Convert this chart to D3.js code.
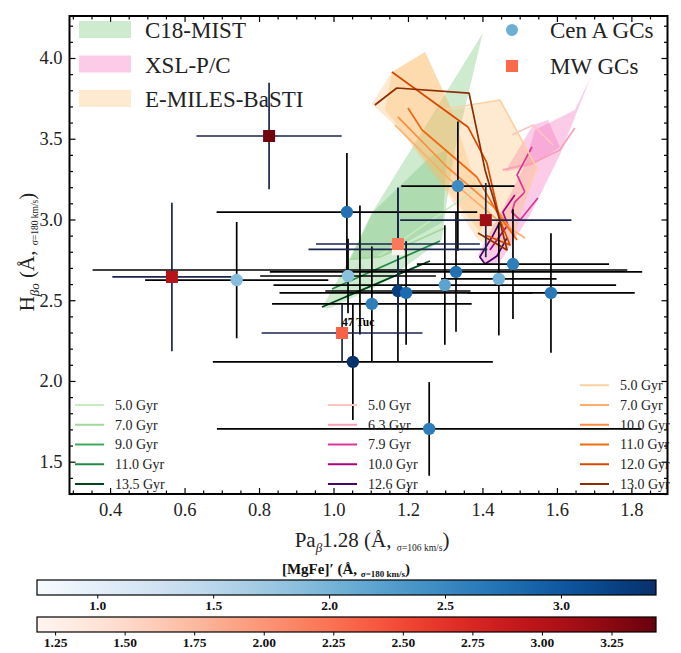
<!DOCTYPE html>
<html>
<head>
<meta charset="utf-8">
<script src="https://cdn.jsdelivr.net/npm/d3@7"></script>
<style>
  body { margin: 0; background: #fff; }
  svg, svg text { font-family: "Liberation Serif", "DejaVu Serif", serif; }
</style>
</head>
<body>
<svg id="chart" width="681" height="653"></svg>
<script>
//=============== data ===============
var xTicks = [0.4, 0.6, 0.8, 1.0, 1.2, 1.4, 1.6, 1.8];
var yTicks = [1.5, 2.0, 2.5, 3.0, 3.5, 4.0];
var cbBlueTicks = [1.0, 1.5, 2.0, 2.5, 3.0];
var cbRedTicks = [1.25, 1.5, 1.75, 2.0, 2.25, 2.5, 2.75, 3.0, 3.25];

// Cen A GCs (first one is the faint point lying under the model fills)
var cenX    = [1.071, 1.036, 0.740, 1.334, 1.039, 1.103, 1.173, 1.195, 1.052, 1.299, 1.329, 1.444, 1.482, 1.584, 1.257];
var cenY    = [2.687, 3.046, 2.625, 3.207, 2.650, 2.477, 2.557, 2.545, 2.118, 2.594, 2.675, 2.632, 2.724, 2.545, 1.703];
var cenXerr = [0.718, 0.350, 0.246, 0.152, 0.236, 0.268, 0.195, 0.340, 0.376, 0.460, 0.500, 0.155, 0.258, 0.225, 0.570];
var cenYerr = [0.400, 0.365, 0.360, 0.400, 0.230, 0.355, 0.440, 0.320, 0.360, 0.370, 0.370, 0.350, 0.340, 0.370, 0.290];
var cenMgFe = [0.74, 2.74, 1.90, 2.48, 1.86, 2.61, 3.28, 2.82, 3.40, 2.20, 2.74, 2.02, 2.61, 2.66, 2.61];

// MW GCs
var mwX     = [1.173, 0.827, 0.566, 1.173, 1.023, 1.409];
var mwY     = [2.815, 3.517, 2.644, 2.848, 2.297, 2.996];
var mwXerr  = [0.240, 0.195, 0.160, 0.220, 0.216, 0.230];
var mwYerr  = [0.380, 0.330, 0.460, 0.350, 0.180, 0.230];
var mwMgFe  = [1.185, 3.37, 3.01, 2.19, 2.35, 3.14];
var mwNames = ["", "", "", "", "47 Tuc", ""];

// C18-MIST
var c18Ages = ["5.0 Gyr", "7.0 Gyr", "9.0 Gyr", "11.0 Gyr", "13.5 Gyr"];
var c18Fills = [
	[[0.969,2.452],[1.044,2.762],[1.103,3.040],[1.401,4.155],[1.326,3.430],[1.305,3.121],[1.291,2.873],[1.125,2.594],[0.991,2.452]],
	[[1.044,2.749],[1.106,3.046],[1.259,3.387],[1.305,3.430],[1.294,2.984],[1.125,2.768]]
];
var c18Lines = [
	[[1.119,2.768],[1.380,3.183]],
	[[1.044,2.755],[1.125,2.768],[1.299,2.947]],
	[[1.031,2.520],[1.232,2.718]],
	[[0.996,2.570],[1.286,2.867]],
	[[0.969,2.458],[1.259,2.743]]
];

// XSL-P/C
var xslAges = ["5.0 Gyr", "6.3 Gyr", "7.9 Gyr", "10.0 Gyr", "12.6 Gyr"];
var xslFills = [
	[[1.691,3.882],[1.608,3.399],[1.528,3.028],[1.447,2.737],[1.407,2.718],[1.388,2.780],[1.460,3.090],[1.514,3.337],[1.541,3.554],[1.648,3.678]],
	[[1.460,3.294],[1.536,3.585],[1.576,3.616],[1.608,3.449],[1.536,3.337]]
];
var xslLines = [
	[[1.479,3.523],[1.536,3.585],[1.590,3.460]],
	[[1.455,3.307],[1.536,3.350],[1.608,3.430],[1.648,3.567]],
	[[1.533,3.449],[1.493,3.276],[1.514,3.170],[1.487,3.108],[1.479,3.046],[1.501,2.997],[1.549,3.133]],
	[[1.487,3.152],[1.455,3.046],[1.468,2.966],[1.439,2.873],[1.420,2.811]],
	[[1.447,2.985],[1.426,2.892],[1.393,2.768],[1.407,2.724],[1.439,2.774],[1.466,2.886]]
];

// E-MILES-BaSTI
var emAges = ["5.0 Gyr", "7.0 Gyr", "10.0 Gyr", "11.0 Gyr", "12.0 Gyr", "13.0 Gyr"];
var emFills = [
	[[1.103,3.715],[1.157,3.913],[1.246,4.037],[1.318,3.678],[1.447,3.740],[1.546,3.319],[1.509,3.071],[1.482,2.873],[1.460,2.811],[1.388,2.873],[1.299,3.183],[1.179,3.554]],
	[[1.157,3.913],[1.246,4.037],[1.318,3.678],[1.366,3.337],[1.420,3.059],[1.393,2.923],[1.326,3.121],[1.205,3.492],[1.138,3.678]]
];
var emLines = [
	[[1.286,3.678],[1.447,3.740],[1.546,3.319],[1.514,3.152]],
	[[1.165,3.585],[1.313,3.245],[1.447,2.985],[1.514,2.885]],
	[[1.173,3.635],[1.305,3.325],[1.439,3.059],[1.487,2.904]],
	[[1.200,3.690],[1.238,3.554],[1.385,3.263],[1.447,3.015],[1.493,2.873]],
	[[1.157,3.913],[1.361,3.573],[1.412,3.350],[1.447,2.997],[1.474,2.842],[1.407,2.904]],
	[[1.111,3.709],[1.170,3.814],[1.364,3.783],[1.407,3.307],[1.444,3.015],[1.466,2.811],[1.388,2.916]]
];

//=============== styles ===============
var serif = "'Liberation Serif', 'DejaVu Serif', serif";
var c18Colors = ["#c7e9c0", "#a1d99b", "#41ab5d", "#238b45", "#00441b"];
var xslColors = ["#fcc5c0", "#fa9fb5", "#dd3497", "#ae017e", "#49006a"];
var emColors  = ["#fdd0a2", "#fdae6b", "#fd8d3c", "#f16913", "#d94801", "#8c2d04"];
var c18Fill = "#74c476", xslFill = "#f46fc0", emFill = "#fdb863";
var c18Op = 0.35, xslOp = 0.36, emOp = 0.3;
var mwErrColor = "#1a2550";

//=============== chart ===============
var svg = d3.select("#chart");
var defs = svg.append("defs");

var x = d3.scaleLinear().domain([0.291, 1.897]).range([69.5, 667.5]);
var y = d3.scaleLinear().domain([1.30, 4.26]).range([494, 16]);
var blueColor = d3.scaleSequential(d3.interpolateBlues).domain([0.74, 3.41]);
var redColor = d3.scaleSequential(d3.interpolateReds).domain([1.185, 3.41]);

defs.append("clipPath").attr("id", "clip")
	.append("rect")
	.attr("x", 69.5).attr("y", 16)
	.attr("width", 598).attr("height", 478);

var plot = svg.append("g").attr("clip-path", "url(#clip)");
var line = d3.line().x(d => x(d[0])).y(d => y(d[1]));

// faint Cen A point sits beneath the model fills
plot.append("circle")
	.attr("cx", x(cenX[0]))
	.attr("cy", y(cenY[0]))
	.attr("r", 6)
	.attr("fill", blueColor(cenMgFe[0]));

// model fills
function drawFills(fills, color, op) {
	plot.selectAll(null)
		.data(fills)
		.enter().append("path")
		.attr("d", d => line(d) + "Z")
		.attr("fill", color)
		.attr("fill-opacity", op)
		.attr("stroke", "none");
}
drawFills(c18Fills, c18Fill, c18Op);
drawFills(xslFills, xslFill, xslOp);
drawFills(emFills, emFill, emOp);

// model age lines
function drawLines(lines, colors) {
	plot.selectAll(null)
		.data(lines)
		.enter().append("path")
		.attr("d", line)
		.attr("fill", "none")
		.attr("stroke", (d, i) => colors[i])
		.attr("stroke-width", 1.7)
		.attr("stroke-linejoin", "round");
}
drawLines(c18Lines, c18Colors);
drawLines(xslLines, xslColors);
drawLines(emLines, emColors);

// error bars
function drawErr(xs, ys, xe, ye, color) {
	var g = plot.append("g").attr("stroke", color).attr("stroke-width", 1.7);
	xs.forEach((v, i) => {
		g.append("line")
			.attr("x1", x(v - xe[i])).attr("x2", x(v + xe[i]))
			.attr("y1", y(ys[i])).attr("y2", y(ys[i]));
		g.append("line")
			.attr("x1", x(v)).attr("x2", x(v))
			.attr("y1", y(ys[i] - ye[i])).attr("y2", y(ys[i] + ye[i]));
	});
}
drawErr(cenX, cenY, cenXerr, cenYerr, "#000");
drawErr(mwX, mwY, mwXerr, mwYerr, mwErrColor);

// markers
plot.selectAll(".cen")
	.data(cenX.slice(1))
	.enter().append("circle")
	.attr("class", "cen")
	.attr("cx", d => x(d))
	.attr("cy", (d, i) => y(cenY[i + 1]))
	.attr("r", 6.2)
	.attr("fill", (d, i) => blueColor(cenMgFe[i + 1]));

plot.selectAll(".mw")
	.data(mwX)
	.enter().append("rect")
	.attr("class", "mw")
	.attr("x", d => x(d) - 6)
	.attr("y", (d, i) => y(mwY[i]) - 6)
	.attr("width", 12).attr("height", 12)
	.attr("fill", (d, i) => redColor(mwMgFe[i]));

plot.selectAll(".mwlab")
	.data(mwX)
	.enter().append("text")
	.attr("x", d => x(d))
	.attr("y", (d, i) => y(mwY[i]) - 7)
	.style("font-family", serif)
	.style("font-size", "11.5px")
	.style("font-weight", "bold")
	.text((d, i) => mwNames[i]);

// axes (ticks inward, all four sides)
var minorX = d3.range(0.30, 1.9, 0.05).filter(v => Math.abs(v * 5 - Math.round(v * 5)) > 1e-6);
var minorY = d3.range(1.3, 4.26, 0.1).filter(v => Math.abs(v * 2 - Math.round(v * 2)) > 1e-6);

function axisGroup(axis, tx, ty) {
	var g = svg.append("g").attr("transform", `translate(${tx},${ty})`).call(axis);
	g.attr("font-family", null).attr("font-size", null);
	g.select(".domain").remove();
	g.selectAll("line").attr("stroke", "#000").attr("stroke-width", 1.2);
	g.selectAll("text")
		.style("font-family", serif)
		.style("font-size", "18.5px")
		.attr("fill", "#222");
	return g;
}
axisGroup(d3.axisBottom(x).tickValues(xTicks).tickSize(-6).tickPadding(9).tickFormat(d3.format(".1f")), 0, 494);
axisGroup(d3.axisBottom(x).tickValues(minorX).tickSize(-3.5).tickFormat(""), 0, 494);
axisGroup(d3.axisTop(x).tickValues(xTicks).tickSize(-6).tickFormat(""), 0, 16);
axisGroup(d3.axisTop(x).tickValues(minorX).tickSize(-3.5).tickFormat(""), 0, 16);
axisGroup(d3.axisLeft(y).tickValues(yTicks).tickSize(-6).tickPadding(7).tickFormat(d3.format(".1f")), 69.5, 0);
axisGroup(d3.axisLeft(y).tickValues(minorY).tickSize(-3.5).tickFormat(""), 69.5, 0);
axisGroup(d3.axisRight(y).tickValues(yTicks).tickSize(-6).tickFormat(""), 667.5, 0);
axisGroup(d3.axisRight(y).tickValues(minorY).tickSize(-3.5).tickFormat(""), 667.5, 0);

svg.append("rect")
	.attr("x", 69.5).attr("y", 16)
	.attr("width", 598).attr("height", 478)
	.attr("fill", "none").attr("stroke", "#000").attr("stroke-width", 2);

// axis labels
var xl = svg.append("text")
	.attr("x", 372).attr("y", 547)
	.attr("text-anchor", "middle")
	.attr("fill", "#222")
	.style("font-family", serif)
	.style("font-size", "21px");
xl.append("tspan").text("Pa");
xl.append("tspan").attr("dy", 5).style("font-size", "13px").style("font-style", "italic").text("β");
xl.append("tspan").attr("dy", -5).text("1.28 (Å, ");
xl.append("tspan").attr("dy", 4).style("font-size", "9.5px").text("σ=106 km/s");
xl.append("tspan").attr("dy", -4).text(")");

var yl = svg.append("text")
	.attr("transform", "translate(34,252) rotate(-90)")
	.attr("text-anchor", "middle")
	.attr("fill", "#222")
	.style("font-family", serif)
	.style("font-size", "21px");
yl.append("tspan").text("H");
yl.append("tspan").attr("dy", 5).style("font-size", "13px").style("font-style", "italic").text("βo");
yl.append("tspan").attr("dy", -5).text(" (Å, ");
yl.append("tspan").attr("dy", 4).style("font-size", "9.5px").text("σ=180 km/s");
yl.append("tspan").attr("dy", -4).text(")");

// legend top-left (model fills)
var legModels = [["C18-MIST", c18Fill, c18Op], ["XSL-P/C", xslFill, xslOp], ["E-MILES-BaSTI", emFill, emOp]];
legModels.forEach((d, i) => {
	svg.append("rect")
		.attr("x", 79).attr("y", 21 + i * 34.5)
		.attr("width", 52).attr("height", 17)
		.attr("fill", d[1]).attr("fill-opacity", d[2]);
	svg.append("text")
		.attr("x", 145).attr("y", 30 + i * 34.5)
		.attr("dy", "0.35em")
		.attr("fill", "#222")
		.style("font-family", serif)
		.style("font-size", "23px")
		.text(d[0]);
});

// legend top-right (data)
svg.append("circle").attr("cx", 512).attr("cy", 30).attr("r", 6).attr("fill", d3.interpolateBlues(0.5));
svg.append("text").attr("x", 550).attr("y", 30).attr("dy", "0.35em")
	.attr("fill", "#222").style("font-family", serif).style("font-size", "23px").text("Cen A GCs");
svg.append("rect").attr("x", 506).attr("y", 60).attr("width", 12).attr("height", 12).attr("fill", d3.interpolateReds(0.5));
svg.append("text").attr("x", 550).attr("y", 66).attr("dy", "0.35em")
	.attr("fill", "#222").style("font-family", serif).style("font-size", "23px").text("MW GCs");

// age legends
function ageLegend(ages, colors, x0, yBottom) {
	var n = ages.length;
	ages.forEach((a, i) => {
		var yy = yBottom - (n - 1 - i) * 19.75;
		svg.append("line")
			.attr("x1", x0).attr("x2", x0 + 29)
			.attr("y1", yy).attr("y2", yy)
			.attr("stroke", colors[i]).attr("stroke-width", 2);
		svg.append("text")
			.attr("x", x0 + 40).attr("y", yy)
			.attr("dy", "0.35em")
			.attr("fill", "#222")
			.style("font-family", serif)
			.style("font-size", "14px")
			.text(a);
	});
}
ageLegend(c18Ages, c18Colors, 75, 484);
ageLegend(xslAges, xslColors, 328, 484);
ageLegend(emAges, emColors, 580, 484);

// colorbars
function colorbar(id, scale, interp, ticks, top, fmt) {
	var grad = defs.append("linearGradient").attr("id", id);
	d3.range(0, 1.0001, 0.05).forEach(t => {
		grad.append("stop").attr("offset", t).attr("stop-color", interp(t));
	});
	svg.append("rect")
		.attr("x", 37).attr("y", top)
		.attr("width", 619).attr("height", 15)
		.attr("fill", `url(#${id})`)
		.attr("stroke", "#000").attr("stroke-width", 1.2);
	var g = svg.append("g")
		.attr("transform", `translate(0,${top + 15})`)
		.call(d3.axisBottom(scale).tickValues(ticks).tickSize(3.5).tickPadding(2).tickFormat(fmt));
	g.attr("font-family", null).attr("font-size", null);
	g.select(".domain").remove();
	g.selectAll("text")
		.style("font-family", serif)
		.style("font-size", "13.5px")
		.style("font-weight", "bold")
		.attr("fill", "#111");
}
var cbBlue = d3.scaleLinear().domain([0.74, 3.41]).range([37, 656]);
var cbRed = d3.scaleLinear().domain([1.185, 3.41]).range([37, 656]);
colorbar("gBlue", cbBlue, d3.interpolateBlues, cbBlueTicks, 580, d3.format(".1f"));
colorbar("gRed", cbRed, d3.interpolateReds, cbRedTicks, 617, d3.format(".2f"));

var ct = svg.append("text")
	.attr("x", 346).attr("y", 574)
	.attr("text-anchor", "middle")
	.attr("fill", "#111")
	.style("font-family", serif)
	.style("font-size", "15px")
	.style("font-weight", "bold");
ct.append("tspan").text("[MgFe]′ (Å, ");
ct.append("tspan").attr("dy", 3).style("font-size", "9px").text("σ=180 km/s");
ct.append("tspan").attr("dy", -3).text(")");
</script>
</body>
</html>
